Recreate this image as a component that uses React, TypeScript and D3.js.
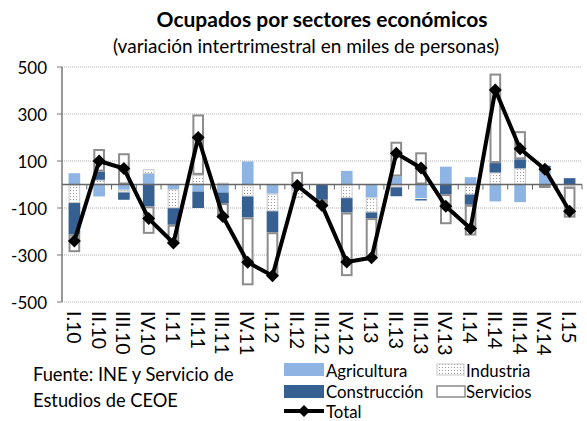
import * as d3 from 'd3';

const categories = [
  'I.10', 'II.10', 'III.10', 'IV.10', 'I.11', 'II.11', 'III.11', 'IV.11',
  'I.12', 'II.12', 'III.12', 'IV.12', 'I.13', 'II.13', 'III.13', 'IV.13',
  'I.14', 'II.14', 'III.14', 'IV.14', 'I.15',
];
const agricultura = [48, -51, -22, 45, -20, -30, -34, 98, -39, -22, 0, 58, -55, 34, -58, 76, 31, -72, -75, 66, -4];
const industria = [-79, 20, -12, 20, -81, 41, 8, -51, -75, -35, 4, -58, -64, -12, -4, 0, -43, 51, 69, 0, -6];
const construccion = [-134, 35, -31, -93, -70, -70, -45, -89, -89, 0, -65, -61, -24, -38, -6, -41, -43, 40, 38, 14, 27];
const servicios = [-75, 96, 133, -117, -78, 257, -65, -289, -187, 54, -28, -271, -169, 148, 137, -128, -131, 381, 120, -15, -131];
const total = [-240, 100, 68, -145, -249, 200, -136, -331, -388, -4, -89, -330, -312, 133, 70, -93, -187, 402, 152, 65, -114];
const yTicks = [500, 300, 100, -100, -300, -500];

const seriesKeys = ['Agricultura', 'Industria', 'Construcción', 'Servicios'];
const seriesValues = [agricultura, industria, construccion, servicios];

const FONT = 'Lato, "Open Sans", sans-serif';
const W = 587;
const H = 421;
const margin = { top: 67, right: 5, bottom: 119, left: 62 };

function fillFor(key: string): string {
  if (key === 'Agricultura') return '#8db4e2';
  if (key === 'Construcción') return '#366092';
  if (key === 'Industria') return 'url(#dots)';
  return '#ffffff';
}

function strokeFor(key: string): string {
  if (key === 'Servicios') return '#8c8c8c';
  if (key === 'Industria') return '#c8c8c8';
  return 'none';
}

export default function App() {
  const x = d3.scaleBand<string>()
    .domain(categories)
    .range([margin.left, W - margin.right])
    .paddingInner(0.53)
    .paddingOuter(0.265);

  const y = d3.scaleLinear()
    .domain([-500, 500])
    .range([H - margin.bottom, margin.top]);

  const table = categories.map((c, i) => {
    const row: Record<string, number | string> = { cat: c };
    seriesKeys.forEach((k, j) => { row[k] = seriesValues[j][i]; });
    return row;
  });

  const stacked = d3.stack<Record<string, number | string>>()
    .keys(seriesKeys)
    .value((d, k) => d[k] as number)
    .offset(d3.stackOffsetDiverging)(table);

  const line = d3.line<number>()
    .x((_, i) => (x(categories[i]) as number) + x.bandwidth() / 2)
    .y(d => y(d));

  const step = x.step();
  const diamond = (cx: number, cy: number, r: number) =>
    `M${cx},${cy - r}L${cx + r},${cy}L${cx},${cy + r}L${cx - r},${cy}Z`;

  return (
    <svg
      width={W}
      height={H}
      style={{ position: 'fixed', left: 0, top: 0, background: '#fff' }}
      fontFamily={FONT}
    >
      <defs>
        <pattern id="dots" width="3" height="3" patternUnits="userSpaceOnUse">
          <rect width="3" height="3" fill="#ffffff" />
          <rect x="1" y="1" width="1" height="1" fill="#9a9a9a" />
        </pattern>
      </defs>

      {/* titles */}
      <text x={322} y={27} textAnchor="middle" fontSize={21} fontWeight="bold">
        Ocupados por sectores económicos
      </text>
      <text x={306} y={53} textAnchor="middle" fontSize={19}>
        (variación intertrimestral en miles de personas)
      </text>

      {/* grid */}
      {yTicks.map(t => (
        <g key={t}>
          <line
            x1={margin.left}
            x2={W - margin.right}
            y1={y(t)}
            y2={y(t)}
            stroke="#b0b0b0"
            strokeDasharray="1,1"
          />
          <line x1={margin.left - 5} x2={margin.left} y1={y(t)} y2={y(t)} stroke="#777" />
          <text
            x={margin.left - 15}
            y={y(t)}
            textAnchor="end"
            dominantBaseline="central"
            fontSize={17}
          >
            {t}
          </text>
        </g>
      ))}

      {/* bars */}
      {stacked.map(s => (
        <g key={s.key}>
          {s.map((d, i) => {
            const v = seriesValues[seriesKeys.indexOf(s.key)][i];
            if (v === 0) return null;
            const top = y(Math.max(d[0], d[1]));
            const bot = y(Math.min(d[0], d[1]));
            const sw = s.key === 'Servicios' ? 2 : 1;
            const inset = strokeFor(s.key) === 'none' ? 0 : sw / 2;
            return (
              <rect
                key={i}
                x={(x(categories[i]) as number) + inset}
                y={top + inset}
                width={x.bandwidth() - inset * 2}
                height={Math.max(0, bot - top - inset * 2)}
                fill={fillFor(s.key)}
                stroke={strokeFor(s.key)}
                strokeWidth={sw}
              />
            );
          })}
        </g>
      ))}

      {/* axes */}
      <line x1={margin.left} x2={margin.left} y1={y(500)} y2={y(-500)} stroke="#777" strokeWidth={1.5} />
      <line x1={margin.left} x2={W - margin.right} y1={y(0)} y2={y(0)} stroke="#666" strokeWidth={1.5} />
      {categories.map((c, i) => (
        <line
          key={c}
          x1={margin.left + step * (i + 1)}
          x2={margin.left + step * (i + 1)}
          y1={y(0)}
          y2={y(0) + 5}
          stroke="#666"
        />
      ))}

      {/* total line */}
      <path d={line(total) || ''} fill="none" stroke="#000" strokeWidth={4} strokeLinejoin="round" />
      {total.map((v, i) => (
        <path
          key={i}
          d={diamond((x(categories[i]) as number) + x.bandwidth() / 2, y(v), 6.5)}
          fill="#000"
        />
      ))}

      {/* category labels */}
      {categories.map(c => {
        const cx = (x(c) as number) + x.bandwidth() / 2;
        return (
          <text
            key={c}
            transform={`translate(${cx},${311}) rotate(90)`}
            dominantBaseline="central"
            fontSize={19.5}
          >
            {c}
          </text>
        );
      })}

      {/* source */}
      <text x={33} y={381} fontSize={18.3}>Fuente: INE y Servicio de</text>
      <text x={33} y={407} fontSize={18.3}>Estudios de CEOE</text>

      {/* legend */}
      <g fontSize={16.8}>
        <rect x={284} y={363} width={40} height={13} fill="#8db4e2" />
        <text x={326} y={370} dominantBaseline="central">Agricultura</text>
        <rect x={437} y={364} width={27} height={11} fill="url(#dots)" stroke="#c8c8c8" />
        <text x={466} y={370} dominantBaseline="central">Industria</text>
        <rect x={284} y={385} width={40} height={13} fill="#366092" />
        <text x={326} y={391} dominantBaseline="central">Construcción</text>
        <rect x={437} y={386} width={28} height={11} fill="#fff" stroke="#8c8c8c" strokeWidth={1.5} />
        <text x={466} y={391} dominantBaseline="central">Servicios</text>
        <line x1={284} x2={324} y1={411} y2={411} stroke="#000" strokeWidth={4} />
        <path d={diamond(304, 411, 6)} fill="#000" />
        <text x={326} y={411} dominantBaseline="central">Total</text>
      </g>
    </svg>
  );
}
